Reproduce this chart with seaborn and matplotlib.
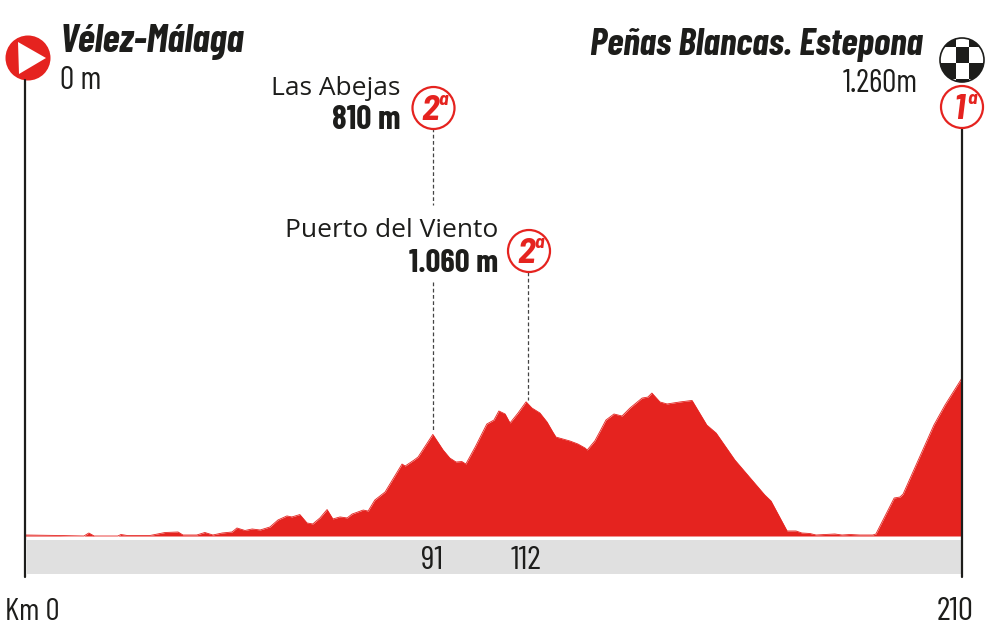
import matplotlib
matplotlib.use('Agg')
import matplotlib.pyplot as plt
import seaborn as sns
import pandas as pd
from matplotlib.patches import Circle, Rectangle, Polygon
from matplotlib.transforms import Affine2D

#stage profile
km = [0, 7.8, 13.2, 14.3, 15.5, 20.8, 21.5, 22.9, 28.0, 31.4, 34.3, 35.4, 38.5, 40.3, 42.1, 44.2,
      46.4, 47.5, 49.3, 50.9, 52.7, 54.9, 56.7, 58.7, 59.8, 61.6, 63.2, 64.5, 66.1, 67.7, 69.0,
      70.6, 72.2, 73.3, 75.8, 76.9, 78.4, 80.7, 82.2, 84.5, 85.2, 87.2, 88.1, 91.4, 93.7, 95.2,
      96.6, 97.9, 98.8, 100.9, 103.5, 105.1, 106.2, 107.6, 108.7, 110.5, 112.3, 113.6, 115.4,
      117.0, 118.3, 119.0, 122.1, 123.9, 125.5, 126.0, 127.7, 128.9, 130.2, 132.0, 133.8, 135.6,
      138.3, 139.6, 140.5, 142.3, 143.9, 146.8, 149.5, 152.8, 154.9, 159.1, 165.8, 167.2, 170.8,
      172.8, 174.1, 175.9, 177.3, 179.3, 181.5, 183.1, 184.9, 187.1, 190.0, 190.7, 194.8, 196.1,
      196.8, 203.7, 206.2, 210]
altitude = [8, 4, 0, 24, 0, 0, 12, 4, 4, 28, 32, 8, 8, 28, 8, 24,
            32, 64, 44, 56, 48, 72, 128, 160, 152, 171, 104, 96, 144, 211, 136,
            152, 144, 175, 207, 199, 287, 351, 439, 574, 558, 606, 630, 810, 686, 622,
            590, 594, 574, 710, 893, 925, 997, 973, 901, 981, 1070, 1021, 981,
            909, 829, 789, 758, 734, 702, 686, 758, 837, 925, 973, 957, 1021,
            1100, 1108, 1140, 1069, 1053, 1069, 1081, 885, 821, 606, 327, 279, 40,
            40, 24, 20, 8, 12, 16, 8, 12, 8, 8, 16, 303, 311,
            335, 885, 1045, 1260]
climb_km = [91, 112]
climb_labels = ['91', '112']

RED = '#e5231f'
DARK = '#1d1d1b'
NARROW = ['Barlow Condensed', 'Roboto', 'DejaVu Sans']
SEMI = ['Barlow Semi Condensed', 'Roboto', 'DejaVu Sans']

sns.set_theme(style='white')
plt.rcParams['font.family'] = NARROW

df = pd.DataFrame({'km': km, 'altitude': altitude})

fig = plt.figure(figsize=(9.9, 6.27), dpi=100)
ax = fig.add_axes([0, 0, 1, 1])

#axes fill the figure, 4.462 px per km and 0.1254 px per metre
ax.set_xlim(-25 / 4.462, 210 + 28 / 4.462)
ax.set_ylim(-91 / 0.1254, 536 / 0.1254)
ax.axis('off')

sns.lineplot(data=df, x='km', y='altitude', color=RED, lw=0.6, ax=ax)
ax.fill_between(df['km'], df['altitude'], 0, color=RED, lw=0)

#everything around the profile is placed in pixels of the picture
px = Affine2D().scale(1 / 990, -1 / 627).translate(0, 1) + fig.transFigure


def txt(x, y, s, size, ha='left', weight='normal', style='normal', color=DARK, family=None, z=6):
    fig.text(x, y, s, transform=px, fontsize=size, ha=ha, va='baseline', weight=weight,
             style=style, color=color, family=family or NARROW, zorder=z)


def badge(x, y, num):
    fig.add_artist(Circle((x, y), 21, transform=px, fc='white', ec=RED, lw=1.6, zorder=5))
    txt(x - 3, y + 12, num, 26, ha='center', weight='bold', style='italic', color=RED, family=SEMI)
    txt(x + 5, y - 3, 'a', 14, weight='bold', style='italic', color=RED, family=SEMI)


#grey band under the profile
fig.add_artist(Rectangle((27, 540), 935, 34, transform=px, fc='#e0e0e0', ec='none'))

#start and finish posts
fig.add_artist(plt.Line2D([25, 25], [80, 577], transform=px, color=DARK, lw=1.6))
fig.add_artist(plt.Line2D([962, 962], [128, 577], transform=px, color=DARK, lw=1.6))

#dashed climb lines, the first one stops around the label of the second climb
dash = dict(transform=px, color='#444444', lw=0.9, ls=(0, (3, 2)))
fig.add_artist(plt.Line2D([432.5, 432.5], [128, 205], **dash))
fig.add_artist(plt.Line2D([432.5, 432.5], [282, 432], **dash))
fig.add_artist(plt.Line2D([528, 528], [272, 400], **dash))

#start marker
fig.add_artist(Circle((28, 58), 22.5, transform=px, fc=RED, ec='none'))
fig.add_artist(Polygon([(18, 42), (46, 58), (19, 74)], transform=px, fc='white', ec='none'))

#finish marker, chequered
flag = Circle((962, 60), 22, transform=px, fc='white', ec=DARK, lw=1.2)
fig.add_artist(flag)
for cx, cy, w in [(940, 31, 16), (969, 31, 16), (956, 47, 13), (940, 63, 16), (969, 63, 16), (956, 79, 13)]:
    sq = Rectangle((cx, cy), w, 16, transform=px, fc=DARK, ec='none')
    fig.add_artist(sq)
    sq.set_clip_path(flag)

badge(433.5, 108, '2')
badge(529, 251, '2')
badge(962, 107, '1')

#place names
txt(60, 52, 'Vélez-Málaga', 28.5, weight='bold', style='italic')
txt(60, 89, '0 m', 23)
txt(923, 55, 'Peñas Blancas. Estepona', 27.3, ha='right', weight='bold', style='italic')
txt(918, 92, '1.260m', 23, ha='right')
txt(400, 95, 'Las Abejas', 19, ha='right', family='Open Sans')
txt(400, 129, '810 m', 24, ha='right', weight='bold')
txt(498, 237, 'Puerto del Viento', 19, ha='right', family='Open Sans')
txt(498, 272, '1.060 m', 23.5, ha='right', weight='bold')

#km labels
for k, lab in zip(climb_km, climb_labels):
    txt(25 + k * 4.462 + 1, 569, lab, 24, ha='center')
txt(5, 620, 'Km 0', 22.5)
txt(955.5, 620, '210', 24, ha='center')

fig.savefig('out.png', dpi=100)
